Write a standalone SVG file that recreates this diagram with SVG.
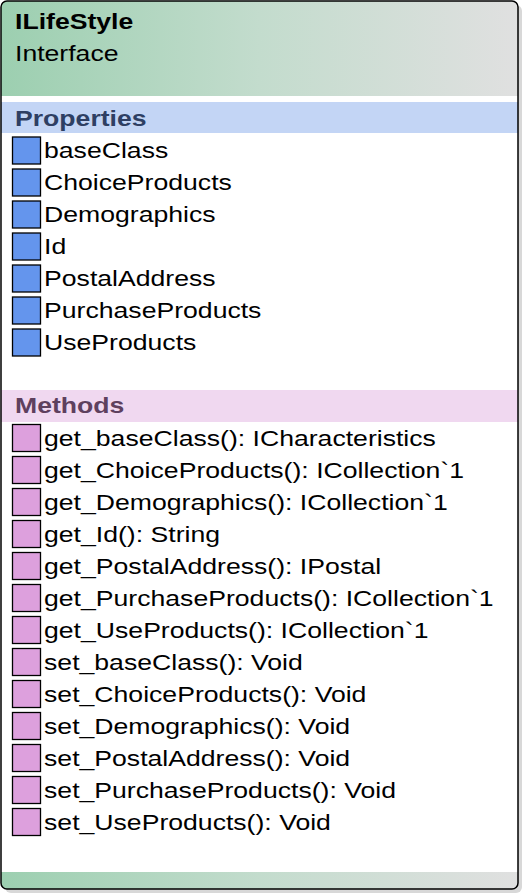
<svg xmlns="http://www.w3.org/2000/svg" width="525" height="896" viewBox="0 0 525 896">
<defs>
<linearGradient id="hg" x1="0" y1="0" x2="1" y2="0">
<stop offset="0" stop-color="#9ccfb0"/>
<stop offset="0.5" stop-color="#c3dccd"/>
<stop offset="1" stop-color="#e0e0e0"/>
</linearGradient>
<clipPath id="box"><rect x="1" y="1" width="517" height="888" rx="6"/></clipPath>
</defs>
<style>
.t{font-family:"Liberation Sans",Arial,sans-serif;font-size:22px;fill:#000}
.h{font-family:"Liberation Sans",Arial,sans-serif;font-size:22px;font-weight:bold}
.p{fill:#6495ed;stroke:#000;stroke-width:1.3}
.m{fill:#dda0dd;stroke:#000;stroke-width:1.3}
</style>
<g id="ILifeStyle">
<rect x="5" y="5" width="517" height="888" rx="6" fill="#d8d8d8"/>
<g clip-path="url(#box)">
<rect x="1" y="1" width="517" height="888" fill="#fff"/>
<rect x="1" y="1" width="517" height="95" fill="url(#hg)"/>
<rect x="1" y="102" width="517" height="31" fill="#c3d5f5"/>
<rect x="1" y="390" width="517" height="32" fill="#f0d8f0"/>
<rect x="1" y="872" width="517" height="17" fill="url(#hg)"/>
</g>
<rect x="1" y="1" width="517" height="888" rx="6" fill="none" stroke="#000" stroke-width="1.5"/>
<g id="props">
<rect class="p" x="12.5" y="137" width="28" height="27"/>
<rect class="p" x="12.5" y="169" width="28" height="27"/>
<rect class="p" x="12.5" y="201" width="28" height="27"/>
<rect class="p" x="12.5" y="233" width="28" height="27"/>
<rect class="p" x="12.5" y="265" width="28" height="27"/>
<rect class="p" x="12.5" y="297" width="28" height="27"/>
<rect class="p" x="12.5" y="329" width="28" height="27"/>
</g>
<g id="methods">
<rect class="m" x="12.5" y="424.5" width="28" height="27"/>
<rect class="m" x="12.5" y="456.5" width="28" height="27"/>
<rect class="m" x="12.5" y="488.5" width="28" height="27"/>
<rect class="m" x="12.5" y="520.5" width="28" height="27"/>
<rect class="m" x="12.5" y="552.5" width="28" height="27"/>
<rect class="m" x="12.5" y="584.5" width="28" height="27"/>
<rect class="m" x="12.5" y="616.5" width="28" height="27"/>
<rect class="m" x="12.5" y="648.5" width="28" height="27"/>
<rect class="m" x="12.5" y="680.5" width="28" height="27"/>
<rect class="m" x="12.5" y="712.5" width="28" height="27"/>
<rect class="m" x="12.5" y="744.5" width="28" height="27"/>
<rect class="m" x="12.5" y="776.5" width="28" height="27"/>
<rect class="m" x="12.5" y="808.5" width="28" height="27"/>
</g>
<g transform="scale(1.21 1)">
<text class="h" x="12.4" y="29.5">ILifeStyle</text>
<text class="t" x="12.4" y="61">Interface</text>
<text class="h" x="12.4" y="126.5" fill="#2e3f63">Properties</text>
<text class="h" x="12.4" y="413.5" fill="#5e405e">Methods</text>
<text class="t" x="36.4" y="158.3">baseClass</text>
<text class="t" x="36.4" y="190.3">ChoiceProducts</text>
<text class="t" x="36.4" y="222.3">Demographics</text>
<text class="t" x="36.4" y="254.3">Id</text>
<text class="t" x="36.4" y="286.3">PostalAddress</text>
<text class="t" x="36.4" y="318.3">PurchaseProducts</text>
<text class="t" x="36.4" y="350.3">UseProducts</text>
<text class="t" x="36.4" y="445.7">get_baseClass(): ICharacteristics</text>
<text class="t" x="36.4" y="477.7">get_ChoiceProducts(): ICollection`1</text>
<text class="t" x="36.4" y="509.7">get_Demographics(): ICollection`1</text>
<text class="t" x="36.4" y="541.7">get_Id(): String</text>
<text class="t" x="36.4" y="573.7">get_PostalAddress(): IPostal</text>
<text class="t" x="36.4" y="605.7">get_PurchaseProducts(): ICollection`1</text>
<text class="t" x="36.4" y="637.7">get_UseProducts(): ICollection`1</text>
<text class="t" x="36.4" y="669.7">set_baseClass(): Void</text>
<text class="t" x="36.4" y="701.7">set_ChoiceProducts(): Void</text>
<text class="t" x="36.4" y="733.7">set_Demographics(): Void</text>
<text class="t" x="36.4" y="765.7">set_PostalAddress(): Void</text>
<text class="t" x="36.4" y="797.7">set_PurchaseProducts(): Void</text>
<text class="t" x="36.4" y="829.7">set_UseProducts(): Void</text>
</g>
</g>
<g id="connectors"/>
</svg>
